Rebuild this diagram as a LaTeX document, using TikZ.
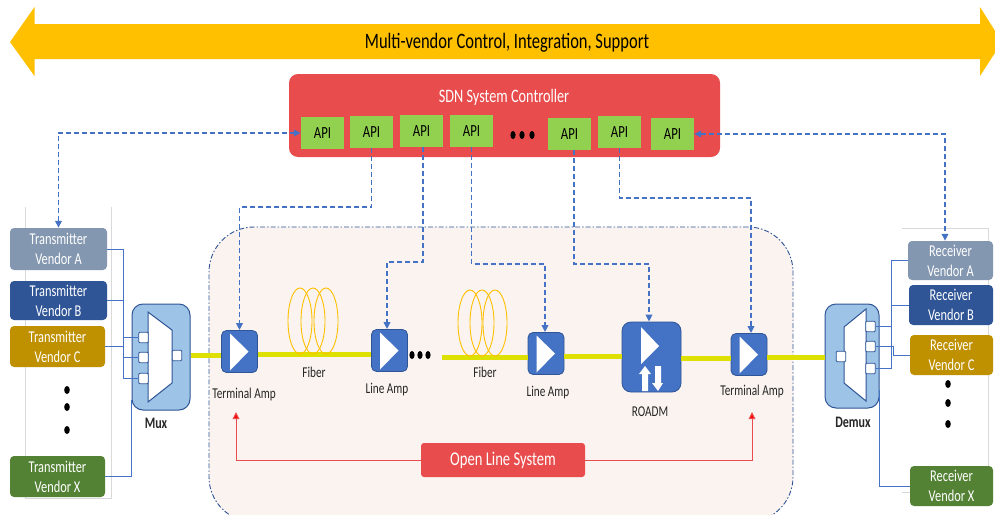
\documentclass[tikz,border=0pt]{standalone}
\usepackage{fontspec}
\setmainfont[FakeStretch=0.75]{Carlito}
\usetikzlibrary{arrows.meta}
\definecolor{bandgold}{HTML}{FFC000}
\definecolor{ctrlred}{HTML}{E84C4C}
\definecolor{apigreen}{HTML}{92D050}
\definecolor{linkblue}{HTML}{4472C4}
\definecolor{darkblue}{HTML}{2F5597}
\definecolor{muxblue}{HTML}{9DC3E6}
\definecolor{olsbg}{HTML}{FAF3EF}
\definecolor{fiberyellow}{HTML}{DDE000}
\definecolor{vendorgray}{HTML}{8497B0}
\definecolor{vendorgold}{HTML}{BF9000}
\definecolor{vendorgreen}{HTML}{548235}
\tikzset{
  apibox/.style={fill=apigreen, minimum width=43pt, minimum height=32pt, inner sep=0pt, font=\fontsize{17}{18}\selectfont},
  vendorbox/.style={rounded corners=4pt, inner sep=0pt, text=white, align=center, font=\fontsize{16.5}{20}\selectfont},
  ampbox/.style={draw=darkblue, line width=0.8pt, fill=linkblue, rounded corners=5pt, minimum width=36pt, minimum height=42pt, inner sep=0pt},
  muxbox/.style={draw=darkblue, line width=1pt, fill=muxblue, rounded corners=11pt, inner sep=0pt},
  portbox/.style={draw=darkblue, line width=0.8pt, fill=white, rounded corners=1pt, minimum width=9.5pt, minimum height=10.5pt, inner sep=0pt},
  lbl/.style={inner sep=0pt, text=black!85, font=\fontsize{15}{16}\selectfont},
  ctrl/.style={linkblue, line width=1.7pt, dash pattern=on 5pt off 3pt},
  ctrltip/.style={-{Triangle[length=7pt,width=6.5pt]}},
  thinlink/.style={linkblue, line width=1pt},
  fiberline/.style={fiberyellow, line width=5pt},
  coil/.style={bandgold, line width=0.9pt},
  redlink/.style={draw=ctrlred, line width=1pt, -{Triangle[length=7pt,width=6.5pt,fill=red]}},
  greyframe/.style={black!15, line width=0.8pt}
}
\begin{document}
\begin{tikzpicture}[x=1pt, y=-1pt]
  \clip (0,0) rectangle (995,514);
  \fill[white] (0,0) rectangle (995,514);
  % top band
  \fill[bandgold] (10,42) -- (34.5,7) -- (34.5,24) -- (980,24) -- (980,7) -- (1002,42) -- (980,76) -- (980,59) -- (34.5,59) -- (34.5,76) -- cycle;
  \node[inner sep=0pt, font=\fontsize{22}{24}\selectfont] (bandtext) at (507,43) {Multi-vendor Control, Integration, Support};
  % controller
  \node[fill=ctrlred, rounded corners=9pt, minimum width=431pt, minimum height=83pt, inner sep=0pt] (sdn) at (504.5,115.5) {};
  \node[inner sep=0pt, text=white, font=\fontsize{19}{20}\selectfont] (sdntext) at (504,97) {SDN System Controller};
  \foreach \name/\xc/\yc in {api1/322.5/133, api2/371.5/132, api3/421.5/131, api4/471.5/131, api5/569.5/134, api6/619.5/132, api7/672.5/134}
    \node[apibox] (\name) at (\xc,\yc) {API};
  \foreach \xc in {513,522,532}
    \fill[black] (\xc,135) ellipse (2.6 and 4);
  % open line system frame
  \node[draw=darkblue, fill=olsbg, line width=0.9pt, dash pattern=on 5pt off 2pt on 1.5pt off 2pt, rounded corners=45pt, minimum width=584pt, minimum height=295pt, inner sep=0pt] (olsframe) at (501,374.5) {};
  % grey vendor frames
  \draw[greyframe] (25,207) -- (25,498) -- (111,498) -- (111,207);
  \draw[greyframe] (902,228) -- (988,228) -- (988,466);
  \draw[greyframe] (902,492) -- (910,492);
  % mux and demux
  \node[muxbox, minimum width=58pt, minimum height=106pt] (mux) at (161,357) {};
  \filldraw[draw=darkblue, fill=white, line width=1pt] (148,312) -- (172,330) -- (172,383) -- (148,402) -- cycle;
  \node[muxbox, minimum width=54pt, minimum height=104pt] (demux) at (852,356) {};
  \filldraw[draw=darkblue, fill=white, line width=1pt] (866,309) -- (844,327) -- (844,383) -- (866,401) -- cycle;
  \foreach \name/\xc/\yc in {muxa/143.5/337.5, muxb/143.5/357.5, muxc/143.5/378.5, muxout/177/355.5, demuxin/841/356.5, demuxa/870.5/326.5, demuxb/870.5/346.5, demuxc/870.5/368.5}
    \node[portbox] (\name) at (\xc,\yc) {};
  % amps
  \foreach \name/\xc/\yc in {tampa/239.5/351.5, lampa/389.5/350.5, lampb/546/353.5, tampb/749/354.5}{
    \node[ampbox] (\name) at (\xc,\yc) {};
    \fill[white] ([shift={(-9.5,-18)}]\name.center) -- ([shift={(9,0)}]\name.center) -- ([shift={(-9.5,19)}]\name.center) -- cycle;
  }
  \node[ampbox, minimum width=59pt, minimum height=70pt, rounded corners=9pt] (roadm) at (651.5,357) {};
  \fill[white] (641,327) -- (659,346) -- (641,364) -- cycle;
  \fill[white] (645,366) -- (651,374) -- (648,374) -- (648,391) -- (642,391) -- (642,374) -- (639,374) -- cycle;
  \fill[white] (655,366) -- (661,366) -- (661,383) -- (663,383) -- (658,391) -- (652,383) -- (655,383) -- cycle;
  % fiber line
  \draw[fiberline] (mux.east |- muxout) -- (tampa.west |- muxout);
  \draw[fiberline] (tampa.east) ++(0,2.5) -- (lampa.west |- 0,354);
  \coordinate (fiberstart) at (442,357);
  \draw[fiberline] (fiberstart) -- (fiberstart -| lampb.west);
  \draw[fiberline] (lampb.east) ++(0,2.5) -- (roadm.west |- 0,356);
  \draw[fiberline] (roadm.east |- 0,358) -- (tampb.west |- 0,358);
  \draw[fiberline] (tampb.east) ++(0,2.5) -- (demux.west |- 0,357);
  % coils
  \foreach \xc in {300,313,326}
    \draw[coil] (\xc,321) ellipse (12 and 33);
  \foreach \xc in {470,482,495}
    \draw[coil] (\xc,323) ellipse (12 and 33);
  \foreach \xc in {412,420,428}
    \fill[black] (\xc,355) ellipse (2.6 and 4);
  % vendors
  \foreach \name/\xc/\yc/\bw/\bh/\col/\txt in {
    txa/58.5/249/97/42/vendorgray/Transmitter\\Vendor A, txb/58.5/300.5/97/39/darkblue/Transmitter\\Vendor B,
    txc/57.5/346.5/95/41/vendorgold/Transmitter\\Vendor C, txx/57.5/476.5/95/41/vendorgreen/Transmitter\\Vendor X,
    rxa/950.5/260.5/85/39/vendorgray/Receiver\\Vendor A, rxb/951/305/84/40/darkblue/Receiver\\Vendor B,
    rxc/951.5/355/83/40/vendorgold/Receiver\\Vendor C, rxx/951.5/486/83/40/vendorgreen/Receiver\\Vendor X}
    \node[vendorbox, fill=\col, minimum width=\bw pt, minimum height=\bh pt] (\name) at (\xc,\yc) {\txt};
  \foreach \yc in {390,407,430}
    \fill[black] (67,\yc) ellipse (2.8 and 4);
  \foreach \yc in {384,403,424}
    \fill[black] (948,\yc) ellipse (2.8 and 4);
  % thin links
  \coordinate (txbus) at (123,300);
  \coordinate (rxbus) at (891,300);
  \draw[thinlink] (txa.east) -| (txbus |- muxa) -- (muxa.west);
  \draw[thinlink] (txb.east) -| (txbus |- muxb) -- (muxb.west);
  \draw[thinlink] (txc.east) -| (txbus |- muxc) -- (muxc.west);
  \draw[thinlink] (txx.east) -| (mux.west |- 0,400);
  \draw[thinlink] (demuxa.east) -| (rxbus |- rxa) -- (rxa.west);
  \draw[thinlink] (demuxc.east) -| (rxbus |- rxb) -- (rxb.west);
  \draw[thinlink] (demuxb.east) -| (893,355) -- (rxc.west);
  \draw[thinlink] (rxx.west) -| (demux.east |- 0,390);
  % labels
  \node[lbl, font=\fontsize{16}{17}\selectfont\bfseries] (muxtext) at (156,423) {Mux};
  \node[lbl, font=\fontsize{16}{17}\selectfont\bfseries] (demuxtext) at (853,422) {Demux};
  \node[lbl] (tampatext) at (244,394) {Terminal Amp};
  \node[lbl] (lampatext) at (387,390) {Line Amp};
  \node[lbl] (fiberatext) at (314,372) {Fiber};
  \node[lbl] (fiberbtext) at (485,372) {Fiber};
  \node[lbl] (lampbtext) at (548,393) {Line Amp};
  \node[lbl] (roadmtext) at (650,412) {ROADM};
  \node[lbl] (tampbtext) at (752,391) {Terminal Amp};
  % dashed control links
  \draw[ctrl, {Triangle[length=7pt,width=6.5pt]}-{Triangle[length=7pt,width=6.5pt]}] (txa.north) |- (api1.west);
  \draw[ctrl, {Triangle[length=7pt,width=6.5pt]}-{Triangle[length=7pt,width=6.5pt]}] (api7.east) -| ([xshift=-5.5pt]rxa.north);
  \draw[ctrl, ctrltip] (api2.south) -- ++(0,59) -| (tampa.north);
  \draw[ctrl, ctrltip] ([xshift=1.5pt]api3.south) -- ++(0,115) -| ([xshift=-2.5pt]lampa.north);
  \draw[ctrl, ctrltip] (api4.south) -- ++(0,117) -| ([xshift=-1pt]lampb.north);
  \draw[ctrl, ctrltip] ([xshift=4.5pt]api5.south) -- ++(0,114) -| ([xshift=-2.5pt]roadm.north);
  \draw[ctrl, ctrltip] (api6.south) -- ++(0,50) -| ([xshift=2pt]tampb.north);
  % open line system
  \node[fill=ctrlred, rounded corners=3pt, minimum width=164pt, minimum height=34pt, inner sep=0pt, text=white, font=\fontsize{19.5}{20}\selectfont] (ols) at (503,460) {Open Line System};
  \coordinate (olsleft) at (236,412);
  \coordinate (olsright) at (752,412);
  \draw[redlink] (ols.west) -| (olsleft);
  \draw[redlink] (ols.east) -| (olsright);
\end{tikzpicture}
\end{document}
